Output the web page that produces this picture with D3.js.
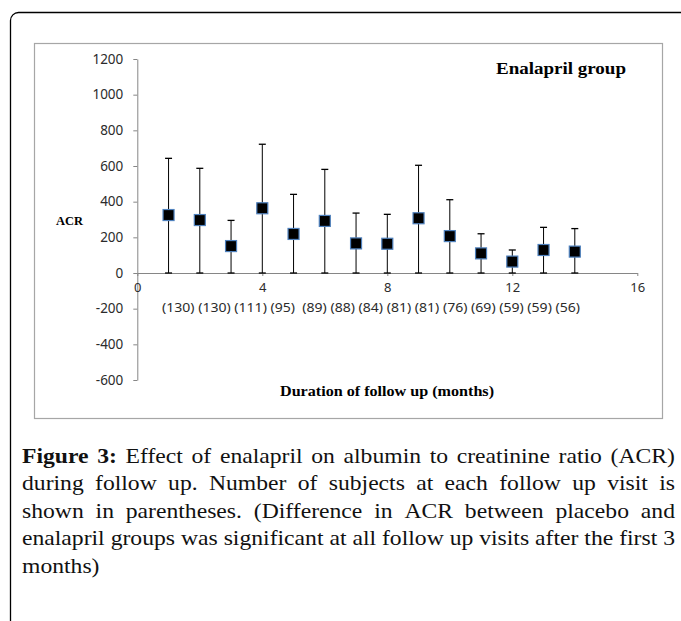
<!DOCTYPE html>
<html>
<head>
<meta charset="utf-8">
<script src="https://cdn.jsdelivr.net/npm/d3@7"></script>
<style>
  html, body { margin: 0; padding: 0; background: #fff; }
  svg { display: block; }
</style>
</head>
<body>
<svg id="chart" width="681" height="621"></svg>
<script>
const months = [1, 2, 3, 4, 5, 6, 7, 8, 9, 10, 11, 12, 13, 14];
const acrMean = [325, 297, 151, 363, 219, 292, 166, 164, 307, 207, 110, 64, 129, 120];
const acrUpper = [643, 587, 295, 722, 441, 581, 336, 329, 604, 411, 220, 129, 256, 249];
const acrLower = [0, 0, 0, 0, 0, 0, 0, 0, 0, 0, 0, 0, 0, 0];
const subjects = [130, 130, 111, 95, 89, 88, 84, 81, 81, 76, 69, 59, 59, 56];
const xTicks = [0, 4, 8, 12, 16];
const yTicks = [-600, -400, -200, 0, 200, 400, 600, 800, 1000, 1200];

const captionLines = [
  [["Figure 3:", true], ["Effect of enalapril on albumin to creatinine ratio (ACR)", false]],
  [["during follow up. Number of subjects at each follow up visit is", false]],
  [["shown in parentheses. (Difference in ACR between placebo and", false]],
  [["enalapril groups was significant at all follow up visits after the first 3", false]],
  [["months)", false]],
];

const data = months.map((m, i) => ({ m, mean: acrMean[i], hi: acrUpper[i], lo: acrLower[i] }));

const svg = d3.select("#chart");
const serif = "'Liberation Serif', 'DejaVu Serif', serif";
const sans = "'Noto Sans', 'Open Sans', sans-serif";

// outer frame (continues past the right and bottom edges)
svg.append("rect")
  .attr("x", 10.5).attr("y", 12.5)
  .attr("width", 720).attr("height", 700)
  .attr("rx", 8)
  .attr("fill", "none").attr("stroke", "#000").attr("stroke-width", 1.3);

// chart area box
svg.append("rect")
  .attr("x", 34.5).attr("y", 43.5)
  .attr("width", 628).attr("height", 375)
  .attr("fill", "#fff").attr("stroke", "#a6a6a6").attr("stroke-width", 1.2);

const x = d3.scaleLinear([0, 16], [137.3, 637.3]);
const y = d3.scaleLinear([-600, 1200], [380, 59]);

const gy = svg.append("g")
  .attr("transform", `translate(${x(0)},0)`)
  .call(d3.axisLeft(y).tickValues(yTicks).tickFormat((d) => String(d))
    .tickSize(4).tickSizeOuter(0).tickPadding(10));
const gx = svg.append("g")
  .attr("transform", `translate(0,${y(0)})`)
  .call(d3.axisBottom(x).tickValues(xTicks).tickFormat((d) => String(d))
    .tickSize(3).tickSizeOuter(0).tickPadding(7));

[gx, gy].forEach((g) => {
  g.select(".domain").attr("stroke", "#868686");
  g.selectAll(".tick line").attr("stroke", "#868686");
  g.selectAll(".tick text")
    .attr("fill", "#2b2b2b")
    .style("font-family", sans)
    .style("font-size", "13.5px");
});
gx.selectAll(".tick text").style("font-size", "13px");

// error bars
const cap = 3.5;
const bars = svg.append("g").selectAll("g").data(data).join("g");
bars.append("line")
  .attr("x1", (d) => x(d.m)).attr("x2", (d) => x(d.m))
  .attr("y1", (d) => y(d.lo)).attr("y2", (d) => y(d.hi))
  .attr("stroke", "#000").attr("stroke-width", 1);
bars.append("line")
  .attr("x1", (d) => x(d.m) - cap).attr("x2", (d) => x(d.m) + cap)
  .attr("y1", (d) => y(d.hi)).attr("y2", (d) => y(d.hi))
  .attr("stroke", "#000").attr("stroke-width", 1.3);
bars.append("line")
  .attr("x1", (d) => x(d.m) - cap).attr("x2", (d) => x(d.m) + cap)
  .attr("y1", (d) => y(d.lo)).attr("y2", (d) => y(d.lo))
  .attr("stroke", "#000").attr("stroke-width", 1.3);

// markers
const ms = 11;
svg.append("g").selectAll("rect").data(data).join("rect")
  .attr("x", (d) => x(d.m) - ms / 2)
  .attr("y", (d) => y(d.mean) - ms / 2)
  .attr("width", ms).attr("height", ms)
  .attr("fill", "#000")
  .attr("stroke", "#4f81bd").attr("stroke-width", 1.2);

// subject counts
svg.append("text")
  .attr("x", 162).attr("y", 311.5)
  .attr("textLength", 418).attr("lengthAdjust", "spacingAndGlyphs")
  .style("white-space", "pre")
  .style("font-family", sans).style("font-size", "12.5px")
  .attr("fill", "#2b2b2b")
  .text(subjects.map((c) => `(${c})` + (c === 95 ? " " : "")).join(" "));

// titles
svg.append("text")
  .attr("x", 496).attr("y", 74)
  .attr("textLength", 130).attr("lengthAdjust", "spacingAndGlyphs")
  .style("font-family", serif).style("font-weight", "bold").style("font-size", "17px")
  .text("Enalapril group");
svg.append("text")
  .attr("x", 56).attr("y", 225)
  .attr("textLength", 27).attr("lengthAdjust", "spacingAndGlyphs")
  .style("font-family", serif).style("font-weight", "bold").style("font-size", "13px")
  .text("ACR");
svg.append("text")
  .attr("x", 280).attr("y", 396)
  .attr("textLength", 214).attr("lengthAdjust", "spacingAndGlyphs")
  .style("font-family", serif).style("font-weight", "bold").style("font-size", "14px")
  .text("Duration of follow up (months)");

// caption, justified by hand; glyphs stretched so the fullest line fits with plain spaces
const capLeft = 22, capRight = 675, capTop = 463, capStep = 27.5, fs = 20;
const lines = captionLines.map((segs, li) => {
  const words = [];
  segs.forEach(([t, b]) => t.split(" ").forEach((w) => words.push({ w, b })));
  const g = svg.append("g");
  const nodes = words.map((d) =>
    g.append("text")
      .attr("y", capTop + li * capStep)
      .style("font-family", serif)
      .style("font-size", fs + "px")
      .style("font-weight", d.b ? "bold" : "normal")
      .attr("fill", "#111")
      .text(d.w)
  );
  const widths = nodes.map((n) => n.node().getComputedTextLength());
  return { g, nodes, widths };
});
const space = fs * 0.25;
const k = (capRight - capLeft) / (d3.sum(lines[3].widths) + space * (lines[3].widths.length - 1));
const avail = (capRight - capLeft) / k;
lines.forEach(({ g, nodes, widths }, li) => {
  const last = li === lines.length - 1;
  const gap = last ? space : Math.max(space * 0.6, (avail - d3.sum(widths)) / (widths.length - 1));
  let cx = 0;
  nodes.forEach((n, i) => {
    n.attr("x", cx);
    cx += widths[i] + gap;
  });
  g.attr("transform", `translate(${capLeft},0) scale(${k},1)`);
});
</script>
</body>
</html>
